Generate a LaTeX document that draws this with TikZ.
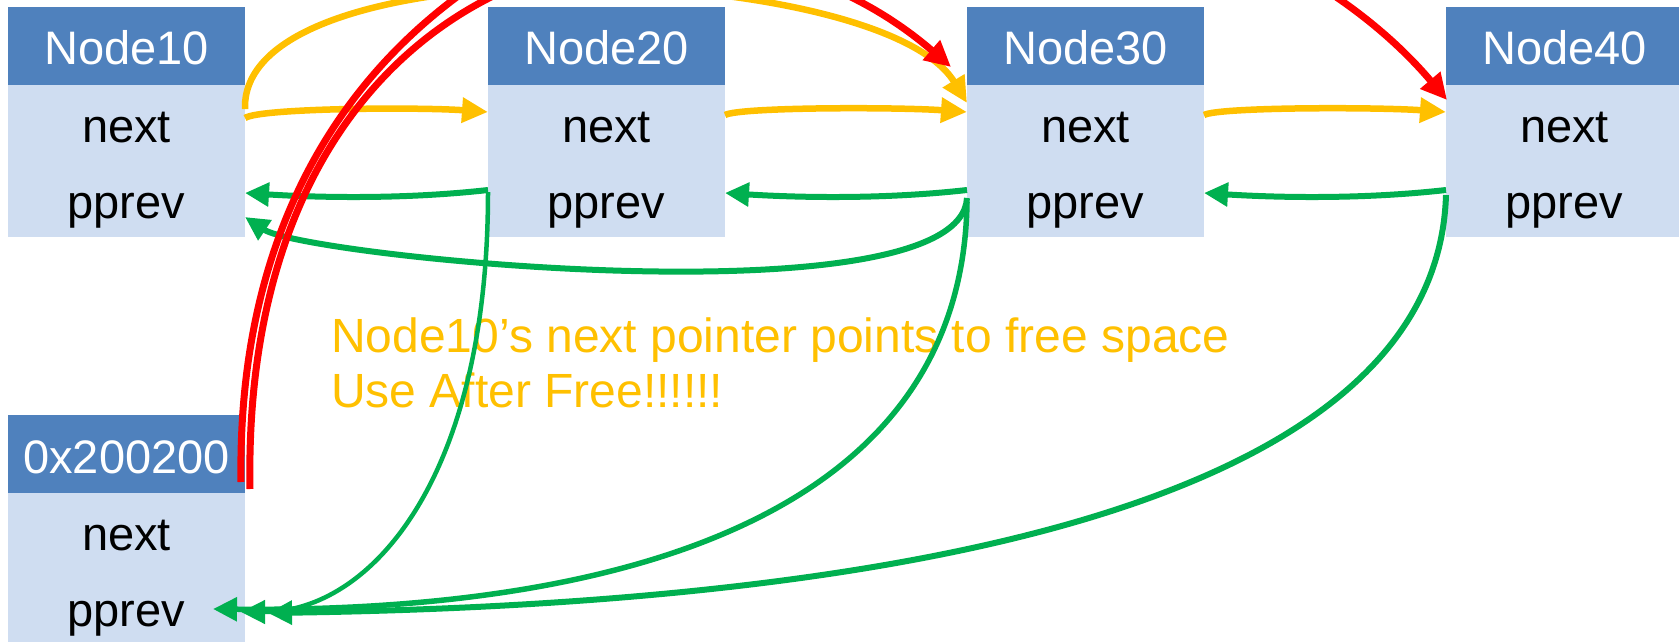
\documentclass[tikz,border=0pt]{standalone}
\usepackage{fontspec}
\setmainfont{Liberation Sans}
\usetikzlibrary{arrows.meta,calc}
\definecolor{hdrblue}{RGB}{79,129,189}
\definecolor{bodyblue}{RGB}{207,221,241}
\definecolor{ptrorange}{RGB}{255,192,0}
\definecolor{ptrgreen}{RGB}{0,176,80}
\definecolor{ptrred}{RGB}{255,0,0}
\begin{document}
\begin{tikzpicture}[x=1pt,y=-1pt,
  hdr/.style={fill=hdrblue,text=white,minimum width=237pt,minimum height=78pt,inner sep=0pt,outer sep=0pt,text height=38pt,text depth=0pt,font=\fontsize{47}{56}\selectfont},
  fld/.style={fill=bodyblue,text=black,minimum width=237pt,minimum height=76pt,inner sep=0pt,outer sep=0pt,text height=38pt,text depth=0pt,font=\fontsize{47}{56}\selectfont},
  nextptr/.style={draw=ptrorange,line width=6.5pt,-{Triangle[length=26pt,width=24pt]}},
  prevptr/.style={draw=ptrgreen,line width=6pt,-{Triangle[length=24pt,width=23pt]}},
  uafptr/.style={draw=ptrred,line width=7pt,-{Triangle[length=26pt,width=25pt]}},
  note/.style={text=ptrorange,anchor=base west,inner sep=0pt,font=\fontsize{48}{58}\selectfont}
]
\fill[white] (0,0) rectangle (1679,642);
\useasboundingbox (0,0) rectangle (1679,642);

% boxes
\node[hdr] (n10h) at (126.5,46) {Node10};
\node[fld] (n10next) at (126.5,123) {next};
\node[fld] (n10pprev) at (126.5,199) {pprev};

\node[hdr] (n20h) at (606.5,46) {Node20};
\node[fld] (n20next) at (606.5,123) {next};
\node[fld] (n20pprev) at (606.5,199) {pprev};

\node[hdr] (n30h) at (1085.5,46) {Node30};
\node[fld] (n30next) at (1085.5,123) {next};
\node[fld] (n30pprev) at (1085.5,199) {pprev};

\node[hdr] (n40h) at (1564.5,46) {Node40};
\node[fld] (n40next) at (1564.5,123) {next};
\node[fld] (n40pprev) at (1564.5,199) {pprev};

\node[hdr] (n0h) at (126.5,454) {0x200200};
\node[fld] (n0next) at (126.5,531) {next};
\node[fld] (n0pprev) at (126.5,607) {pprev};

% note
\node[note] (note1) at (331,352) {Node10’s next pointer points to free space};
\node[note] (note2) at (331,407) {Use After Free!!!!!!};

% green pprev pointers
\draw[prevptr] ($(n20pprev.west)+(0,-9)$) .. controls +(-80,9) and +(80,5) .. ($(n10pprev.east)+(0,-6)$);
\draw[prevptr] ($(n30pprev.west)+(0,-9)$) .. controls +(-80,9) and +(80,5) .. ($(n20pprev.east)+(0,-6)$);
\draw[prevptr] ($(n40pprev.west)+(0,-9)$) .. controls +(-80,9) and +(80,5) .. ($(n30pprev.east)+(0,-6)$);
\draw[prevptr] ($(n30pprev.west)+(0,-1)$) .. controls +(-7,125) and +(60,40) .. ($(n10pprev.east)+(0,18)$);
\draw[prevptr,line width=4.5pt] ($(n20pprev.west)+(0,-7)$) .. controls +(0,288) and +(129,0) .. ($(n0pprev.east)+(-4,5)$);
\draw[prevptr,line width=5.5pt] ($(n30pprev.west)+(0,3)$) .. controls +(-5,358) and +(307,3) .. ($(n0pprev.east)+(-32,2)$);
\draw[prevptr] ($(n40pprev.west)+(0,-4)$) .. controls +(-10,330) and +(560,-8) .. ($(n0pprev.east)+(23,6)$);

% yellow next pointers
\draw[nextptr] ($(n10next.east)+(0,-5)$) .. controls +(15,-10) and +(-70,-5) .. ($(n20next.west)+(0,-11)$);
\draw[nextptr] ($(n20next.east)+(0,-8)$) .. controls +(15,-8) and +(-70,-5) .. ($(n30next.west)+(0,-11)$);
\draw[nextptr] ($(n30next.east)+(0,-8)$) .. controls +(15,-8) and +(-70,-5) .. ($(n40next.west)+(0,-11)$);
\draw[nextptr] ($(n10next.east)+(0,-14)$) .. controls +(-5,-169) and +(-87,-143) .. ($(n30next.west)+(0,-20)$);

% red pointers from freed chunk
\draw[uafptr] ($(n0h.south east)+(5,-4)$) .. controls +(-10,-539) and +(-251,-217) .. ($(n30h.west)+(-16,21)$);
\draw[uafptr] ($(n0h.south east)+(-4,-11)$) .. controls +(-11,-732) and +(-297,-350) .. ($(n40next.north west)+(1,15)$);
\end{tikzpicture}
\end{document}
